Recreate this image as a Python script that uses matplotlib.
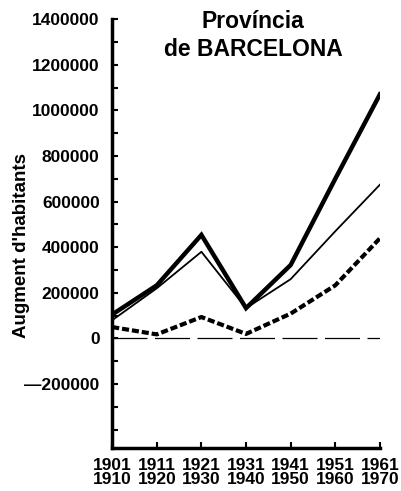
import numpy as np
import matplotlib.pyplot as plt

periods = ["1901\n1910", "1911\n1920", "1921\n1930", "1931\n1940",
           "1941\n1950", "1951\n1960", "1961\n1970"]
total = [105000, 233000, 454000, 133000, 322000, 700000, 1070000]
migracio = [80000, 220000, 380000, 133000, 260000, 470000, 674000]
natural = [50000, 18000, 94000, 20000, 109000, 233000, 439000]

plt.rcParams["font.family"] = ["Liberation Sans", "DejaVu Sans"]
plt.rcParams["font.weight"] = "bold"

fig = plt.figure(figsize=(4.02, 4.91), dpi=100)
ax = fig.add_axes([0.279, 0.0876, 0.666, 0.8735])

x = np.arange(len(periods))
ax.plot(x, [0] * len(x), color="black", linewidth=0.9, dashes=(28, 6))
ax.plot(x, total, color="black", linewidth=3.2, solid_joinstyle="miter")
ax.plot(x, migracio, color="black", linewidth=1.3)
ax.plot(x, natural, color="black", linewidth=3.0, dashes=(1.7, 0.7))

ax.set_xlim(0, 6)
ax.set_ylim(-480000, 1400000)
ax.spines["top"].set_visible(False)
ax.spines["right"].set_visible(False)
ax.spines["left"].set_linewidth(2.5)
ax.spines["bottom"].set_linewidth(2.5)

ax.set_xticks(x)
ax.set_xticklabels(periods, fontsize=12.5, fontweight="bold", linespacing=0.95)
yt = np.arange(-200000, 1400001, 200000)
ax.set_yticks(yt)
ax.set_yticklabels(["—200000" if v < 0 else str(v) for v in yt],
                   fontsize=12.5, fontweight="bold")
ax.set_yticks(np.arange(-400000, 1400001, 100000), minor=True)
ax.tick_params(axis="both", which="both", direction="in", length=4, width=1.5)
ax.tick_params(axis="y", pad=9)
ax.tick_params(axis="x", pad=7)

ax.set_ylabel("Augment d'habitants", fontsize=13.5, fontweight="bold")
ax.yaxis.set_label_coords(-0.305, 0.473)
ax.text(0.526, 1.022, "Província\nde BARCELONA", transform=ax.transAxes,
        ha="center", va="top", fontsize=16.5, fontweight="bold", linespacing=1.28)

fig.savefig("out.png", dpi=100)
